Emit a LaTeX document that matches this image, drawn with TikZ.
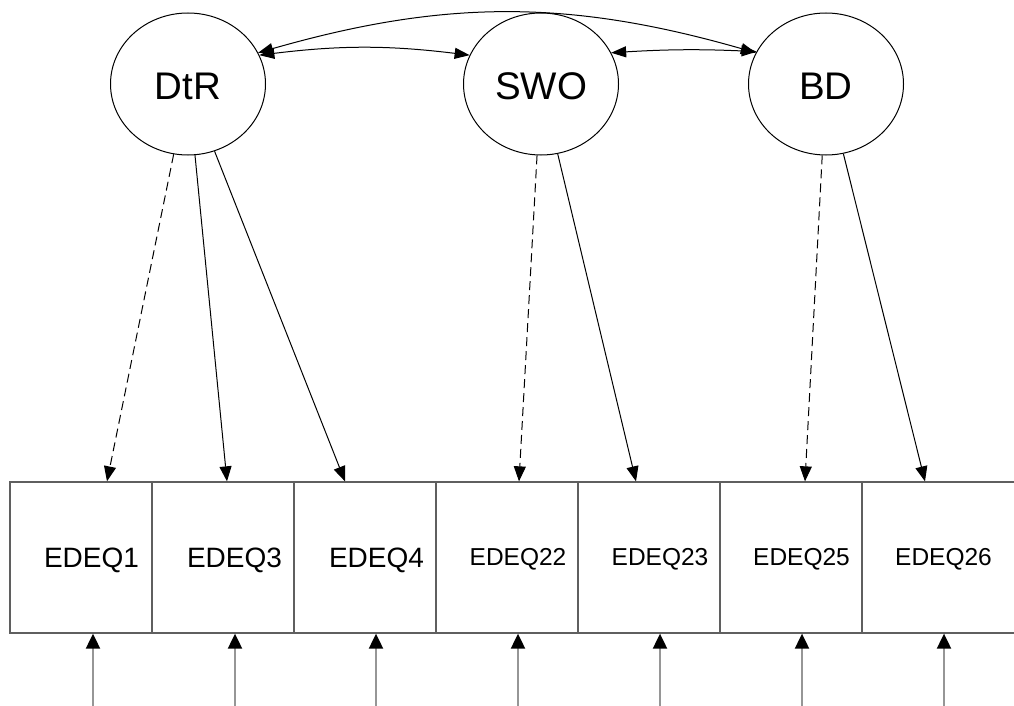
\documentclass[tikz,border=0pt]{standalone}
\usepackage{fontspec}
\setmainfont{Liberation Sans}
\usetikzlibrary{arrows.meta,shapes.geometric,calc}
\definecolor{boxgray}{RGB}{95,95,95}
\definecolor{errgray}{RGB}{150,150,150}
\begin{document}
\begin{tikzpicture}[x=1pt,y=-1pt,
 latent/.style={ellipse, draw, line width=1pt, minimum width=155pt, minimum height=142pt, inner sep=0pt, text height=32pt, text depth=0pt, font=\fontsize{38.5}{42}\selectfont},
 obsbox/.style={rectangle, draw=boxgray, line width=1.3pt, minimum width=142pt, minimum height=151pt, inner sep=0pt},
 lbl/.style={font=\fontsize{28}{32}\selectfont, inner sep=0pt},
 lbls/.style={font=\fontsize{24.5}{28}\selectfont, inner sep=0pt},
 load/.style={-{Triangle[length=15pt,width=12pt]}, line width=1pt},
 dload/.style={load, dash pattern=on 9pt off 5pt},
 cov/.style={{Triangle[length=15pt,width=11pt]}-{Triangle[length=15pt,width=11pt]}, line width=1pt},
 err/.style={-{Triangle[length=15pt,width=14pt,color=black]}, line width=2pt, draw=errgray},
]
\useasboundingbox (0,0) rectangle (1014,706);
\clip (0,0) rectangle (1014,706);

% latent variables
\node[latent] (dtr) at (188,84) {DtR};
\node[latent] (swo) at (541,84) {SWO};
\node[latent] (bd)  at (826,84) {BD};

% observed boxes
\node[obsbox] (e1)  at (81,557.5) {};
\node[obsbox] (e3)  at (223,557.5) {};
\node[obsbox] (e4)  at (365,557.5) {};
\node[obsbox] (e22) at (507,557.5) {};
\node[obsbox] (e23) at (649,557.5) {};
\node[obsbox] (e25) at (791,557.5) {};
\node[obsbox, minimum width=190pt] (e26) at (957,557.5) {};

\node[lbl]  (t1)  at (91.5,560) {EDEQ1};
\node[lbl]  (t3)  at (234.5,560) {EDEQ3};
\node[lbl]  (t4)  at (376.5,560) {EDEQ4};
\node[lbls] (t22) at (518,559) {EDEQ22};
\node[lbls] (t23) at (660,559) {EDEQ23};
\node[lbls] (t25) at (801.5,559) {EDEQ25};
\node[lbls] (t26) at (943.5,559) {EDEQ26};

% loadings
\draw[dload] (dtr) -- ([xshift=26pt]e1.north);
\draw[load]  (dtr) -- ([xshift=4pt]e3.north);
\draw[load]  (dtr) -- ([xshift=-20pt]e4.north);
\draw[dload] (swo) -- ([xshift=12pt]e22.north);
\draw[load]  (swo) -- ([xshift=-13pt]e23.north);
\draw[dload] (bd)  -- ([xshift=14pt]e25.north);
\draw[load]  (bd)  -- ([xshift=-32pt]e26.north);

% covariances
\draw[cov] (dtr.22) to[bend left=7] (swo.158);
\draw[cov] (swo.24) to[bend left=3] (bd.155);
\draw[cov] (dtr.24) to[bend left=16] (bd.156);

% error arrows
\coordinate (b1)  at (93,706);
\coordinate (b3)  at (235,706);
\coordinate (b4)  at (376,706);
\coordinate (b22) at (518,706);
\coordinate (b23) at (660,706);
\coordinate (b25) at (802,706);
\coordinate (b26) at (944,706);
\foreach \i in {1,3,4,22,23,25,26} {
  \draw[err] (b\i) -- (b\i |- e\i.south);
}
\end{tikzpicture}
\end{document}
